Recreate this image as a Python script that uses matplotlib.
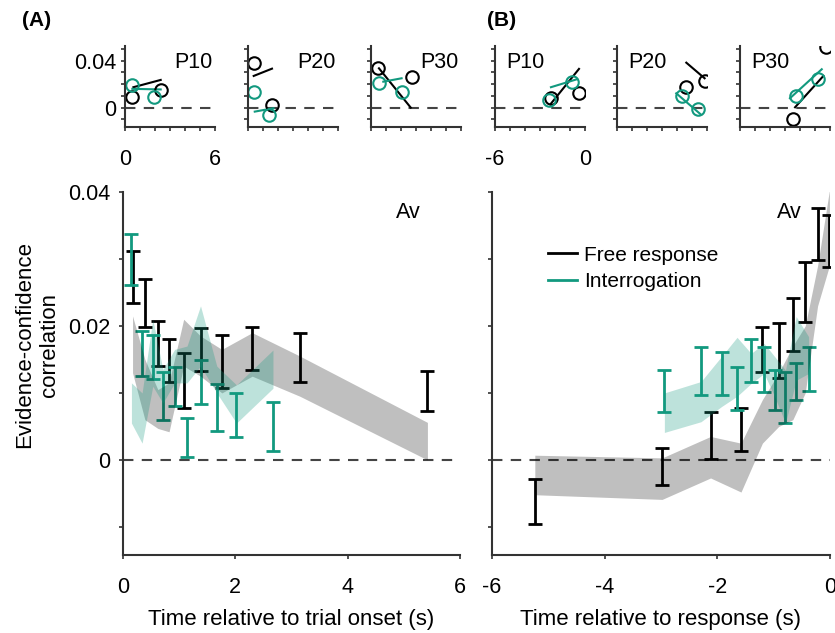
import numpy as np
import matplotlib
matplotlib.use('Agg')
import matplotlib.pyplot as plt

plt.rcParams['font.family'] = ['Liberation Sans', 'DejaVu Sans']
plt.rcParams['font.size'] = 15.5
plt.rcParams['axes.unicode_minus'] = False

BLACK = 'black'
TEAL = '#12997f'

# ---- main panel (A): time relative to trial onset ----
a_free_x = [0.17, 0.39, 0.62, 0.82, 1.08, 1.38, 1.76, 2.30, 3.15, 5.42]
a_free_lo = [0.0235, 0.0199, 0.0140, 0.0117, 0.0077, 0.0133, 0.0107, 0.0134, 0.0117, 0.0073]
a_free_hi = [0.0312, 0.0270, 0.0207, 0.0180, 0.0160, 0.0197, 0.0187, 0.0199, 0.0190, 0.0133]

a_int_x = [0.15, 0.34, 0.53, 0.71, 0.92, 1.14, 1.38, 1.67, 2.02, 2.67]
a_int_lo = [0.0261, 0.0126, 0.0121, 0.0060, 0.0080, 0.0005, 0.0084, 0.0043, 0.0034, 0.0014]
a_int_hi = [0.0337, 0.0193, 0.0186, 0.0131, 0.0139, 0.0063, 0.0149, 0.0113, 0.0100, 0.0087]

# model bands (A)
a_free_band_x = [0.17, 0.39, 0.62, 0.82, 1.08, 1.38, 1.76, 2.30, 3.15, 5.42]
a_free_band_lo = [0.0130, 0.0060, 0.0047, 0.0042, 0.0140, 0.0125, 0.0100, 0.0125, 0.0095, 0.0000]
a_free_band_hi = [0.0215, 0.0150, 0.0105, 0.0115, 0.0210, 0.0185, 0.0165, 0.0190, 0.0155, 0.0056]

a_int_band_x = [0.15, 0.34, 0.53, 0.71, 0.92, 1.14, 1.38, 1.67, 2.02, 2.67]
a_int_band_lo = [0.0055, 0.0025, 0.0110, 0.0085, 0.0115, 0.0115, 0.0140, 0.0100, 0.0055, 0.0107]
a_int_band_hi = [0.0115, 0.0100, 0.0210, 0.0135, 0.0165, 0.0170, 0.0230, 0.0140, 0.0112, 0.0164]

# ---- main panel (B): time relative to response ----
b_free_x = [-5.24, -2.98, -2.12, -1.58, -1.20, -0.91, -0.66, -0.44, -0.22, -0.01]
b_free_lo = [-0.0095, -0.0038, 0.0002, 0.0013, 0.0131, 0.0123, 0.0162, 0.0206, 0.0299, 0.0288]
b_free_hi = [-0.0028, 0.0018, 0.0071, 0.0077, 0.0199, 0.0205, 0.0241, 0.0296, 0.0376, 0.0365]

b_int_x = [-2.94, -2.29, -1.92, -1.65, -1.40, -1.17, -0.98, -0.79, -0.60, -0.38]
b_int_lo = [0.0071, 0.0097, 0.0097, 0.0074, 0.0117, 0.0101, 0.0075, 0.0055, 0.0089, 0.0103]
b_int_hi = [0.0134, 0.0169, 0.0161, 0.0139, 0.0181, 0.0169, 0.0134, 0.0131, 0.0144, 0.0169]

b_free_band_x = [-5.24, -2.98, -2.12, -1.58, -1.20, -0.91, -0.66, -0.44, -0.22, -0.01]
b_free_band_lo = [-0.0052, -0.0059, -0.0027, -0.0048, 0.0025, 0.0050, 0.0060, 0.0100, 0.0230, 0.0290]
b_free_band_hi = [0.0007, 0.0003, 0.0035, 0.0025, 0.0090, 0.0130, 0.0170, 0.0200, 0.0290, 0.0403]

b_int_band_x = [-2.94, -2.29, -1.92, -1.65, -1.40, -1.17, -0.98, -0.79, -0.60, -0.38]
b_int_band_lo = [0.0041, 0.0057, 0.0080, 0.0095, 0.0114, 0.0129, 0.0094, 0.0055, 0.0119, 0.0129]
b_int_band_hi = [0.0100, 0.0117, 0.0155, 0.0183, 0.0159, 0.0174, 0.0154, 0.0134, 0.0214, 0.0184]

# ---- small participant panels: (early, late) points and fitted segment ----
small_names = ['P10', 'P20', 'P30']
# panel A
sa_free_pts = [([0.49, 2.38], [0.0089, 0.0150]),
               ([0.38, 1.60], [0.0378, 0.0020]),
               ([0.49, 2.71], [0.0335, 0.0264])]
sa_free_fit = [([0.56, 2.38], [0.0174, 0.0236]),
               ([0.38, 1.60], [0.0270, 0.0332]),
               ([0.53, 2.65], [0.0335, 0.0000])]
sa_int_pts = [([0.49, 1.93], [0.0193, 0.0089]),
              ([0.38, 1.40], [0.0136, -0.0062]),
              ([0.53, 2.09], [0.0208, 0.0136])]
sa_int_fit = [([0.49, 2.38], [0.0160, 0.0155]),
              ([0.45, 1.70], [-0.0034, -0.0005]),
              ([0.82, 2.04], [0.0221, 0.0250])]
# panel B
sb_free_pts = [([-2.29, -0.40], [0.0085, 0.0122]),
               ([-1.38, -0.16], [0.0179, 0.0230]),
               ([-2.49, -0.29], [-0.0099, 0.0519])]
sb_free_fit = [([-2.29, -0.40], [0.0031, 0.0330]),
               ([-1.38, -0.16], [0.0383, 0.0250]),
               ([-2.33, -0.44], [0.0003, 0.0270])]
sb_int_pts = [([-2.38, -0.85], [0.0066, 0.0221]),
              ([-1.69, -0.60], [0.0100, -0.0009]),
              ([-2.29, -0.78], [0.0102, 0.0242])]
sb_int_fit = [([-2.27, -0.53], [0.0174, 0.0242]),
              ([-2.05, -0.45], [0.0122, -0.0054]),
              ([-2.67, -0.55], [0.0080, 0.0327])]

fig = plt.figure(figsize=(8.35, 6.33), dpi=100)


def style_axes(ax):
    for s in ['top', 'right']:
        ax.spines[s].set_visible(False)
    for s in ['left', 'bottom']:
        ax.spines[s].set_color('#333333')
        ax.spines[s].set_linewidth(1.5)
    ax.tick_params(direction='out', length=3, width=1.2, color='#333333')


def draw_bars(ax, x, lo, hi, color):
    lo = np.array(lo)
    hi = np.array(hi)
    mid = (lo + hi) / 2
    half = (hi - lo) / 2
    ax.errorbar(x, mid, yerr=half, fmt='none', ecolor=color, elinewidth=2,
                capsize=5, capthick=2, zorder=2)


def main_panel(ax, fx, flo, fhi, ix, ilo, ihi, gbx, gblo, gbhi, tbx, tblo, tbhi):
    style_axes(ax)
    draw_bars(ax, fx, flo, fhi, BLACK)
    draw_bars(ax, ix, ilo, ihi, TEAL)
    ax.fill_between(gbx, gblo, gbhi, color='black', alpha=0.25, lw=0, zorder=3)
    ax.fill_between(tbx, tblo, tbhi, color=TEAL, alpha=0.28, lw=0, zorder=3)
    ax.axhline(0, color='#444444', lw=1.5, ls=(0, (5, 4)), zorder=1)
    ax.set_ylim(-0.0142, 0.04)
    ax.set_yticks(np.arange(-0.01, 0.041, 0.01))
    ax.tick_params(axis='x', pad=13)
    ax.tick_params(axis='y', pad=6)


# main (A)
axA = fig.add_axes([123 / 835, 1 - 555 / 633, 337 / 835, 363 / 633])
main_panel(axA, a_free_x, a_free_lo, a_free_hi, a_int_x, a_int_lo, a_int_hi,
           a_free_band_x, a_free_band_lo, a_free_band_hi,
           a_int_band_x, a_int_band_lo, a_int_band_hi)
axA.set_xlim(0, 6)
axA.set_xticks([0, 2, 4, 6])
axA.set_yticklabels(['', '0', '', '0.02', '', '0.04'])
axA.set_xlabel('Time relative to trial onset (s)', labelpad=8, fontsize=16)
axA.text(5.3, 0.0385, 'Av', ha='right', va='top')

# main (B)
axB = fig.add_axes([492 / 835, 1 - 555 / 633, 338 / 835, 363 / 633])
main_panel(axB, b_free_x, b_free_lo, b_free_hi, b_int_x, b_int_lo, b_int_hi,
           b_free_band_x, b_free_band_lo, b_free_band_hi,
           b_int_band_x, b_int_band_lo, b_int_band_hi)
axB.set_xlim(-6, 0)
axB.set_xticks([-6, -4, -2, 0])
axB.set_yticklabels([])
axB.set_xlabel('Time relative to response (s)', labelpad=8, fontsize=16)
axB.text(-0.5, 0.0385, 'Av', ha='right', va='top')
axB.plot([], [], color=BLACK, lw=2, label='Free response')
axB.plot([], [], color=TEAL, lw=2, label='Interrogation')
axB.legend(loc='upper left', bbox_to_anchor=(0.14, 0.875), frameon=False,
           handlelength=1.4, handletextpad=0.35, labelspacing=0.35, borderaxespad=0,
           fontsize=15)

fig.text(37 / 835, 1 - 345 / 633, 'Evidence-confidence\ncorrelation',
         rotation=90, ha='center', va='center', fontsize=16)

# small panels
small_lefts_a = [125, 248, 371]
small_lefts_b = [495, 617, 740]


def small_panel(left, xlim, fpts, ffit, ipts, ifit, name, name_right, first):
    ax = fig.add_axes([left / 835, 1 - 127 / 633, 90 / 835, 81 / 633])
    style_axes(ax)
    ax.axhline(0, color='#444444', lw=1.5, ls=(0, (5, 4)), zorder=1)
    ax.plot(ffit[0], ffit[1], color=BLACK, lw=1.5)
    ax.plot(ifit[0], ifit[1], color=TEAL, lw=1.5)
    ax.plot(fpts[0], fpts[1], 'o', mfc='none', mec=BLACK, mew=1.5, ms=9, ls='none')
    ax.plot(ipts[0], ipts[1], 'o', mfc='none', mec=TEAL, mew=1.5, ms=9, ls='none')
    ax.set_xlim(*xlim)
    ax.set_ylim(-0.0165, 0.0525)
    ax.set_xticks(np.arange(xlim[0], xlim[1] + 0.5, 1))
    ax.set_yticks(np.arange(-0.01, 0.051, 0.01))
    ax.tick_params(axis='x', pad=13)
    if first:
        ax.set_xticklabels([str(int(xlim[0]))] + [''] * 5 + [str(int(xlim[1]))])
        if xlim[0] == 0:
            ax.set_yticklabels(['', '0', '', '', '', '0.04', ''])
        else:
            ax.set_yticklabels([])
    else:
        ax.set_xticklabels([])
        ax.set_yticklabels([])
    if name_right:
        ax.text(0.97, 0.92, name, transform=ax.transAxes, ha='right', va='top')
    else:
        ax.text(0.12, 0.92, name, transform=ax.transAxes, ha='left', va='top')


for i in range(3):
    small_panel(small_lefts_a[i], (0, 6), sa_free_pts[i], sa_free_fit[i],
                sa_int_pts[i], sa_int_fit[i], small_names[i], True, i == 0)
    small_panel(small_lefts_b[i], (-6, 0), sb_free_pts[i], sb_free_fit[i],
                sb_int_pts[i], sb_int_fit[i], small_names[i], False, i == 0)

fig.text(22 / 835, 1 - 20 / 633, '(A)', fontweight='bold', ha='left', va='center', fontsize=15)
fig.text(487 / 835, 1 - 20 / 633, '(B)', fontweight='bold', ha='left', va='center', fontsize=15)

fig.savefig('out.png', dpi=100)
